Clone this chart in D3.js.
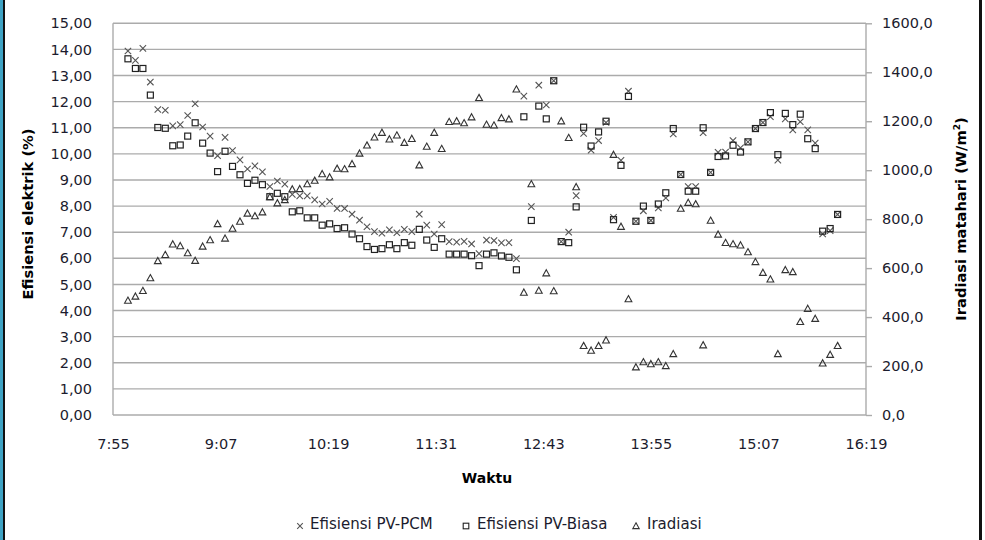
<!DOCTYPE html>
<html><head><meta charset="utf-8">
<script src="https://cdn.jsdelivr.net/npm/d3@7"></script>
<style>html,body{margin:0;padding:0;background:#fff;}svg{display:block;}</style>
</head><body>
<script>
const times = ["8:05","8:10","8:15","8:20","8:25","8:30","8:35","8:40","8:45","8:50","8:55","9:00",
"9:05","9:10","9:15","9:20","9:25","9:30","9:35","9:40","9:45","9:50","9:55","10:00",
"10:05","10:10","10:15","10:20","10:25","10:30","10:35","10:40","10:45","10:50","10:55","11:00",
"11:05","11:10","11:15","11:20","11:25","11:30","11:35","11:40","11:45","11:50","11:55","12:00",
"12:05","12:10","12:15","12:20","12:25","12:30","12:35","12:40","12:45","12:50","12:55","13:00",
"13:05","13:10","13:15","13:20","13:25","13:30","13:35","13:40","13:45","13:50","13:55","14:00",
"14:05","14:10","14:15","14:20","14:25","14:30","14:35","14:40","14:45","14:50","14:55","15:00",
"15:05","15:10","15:15","15:20","15:25","15:30","15:35","15:40","15:45","15:50","15:55","16:00"];
const effPCM = [13.94,13.58,14.04,12.75,11.70,11.67,11.07,11.12,11.47,11.92,11.03,10.68,
9.93,10.63,10.13,9.77,9.42,9.54,9.31,8.75,8.96,8.84,8.45,8.39,
8.39,8.24,8.08,8.18,7.91,7.91,7.69,7.46,7.21,7.02,6.96,7.09,
6.98,7.11,7.02,7.69,7.27,6.93,7.29,6.64,6.62,6.65,6.55,6.18,
6.70,6.68,6.59,6.60,5.99,12.21,7.98,12.63,11.87,12.80,6.64,7.00,
8.40,10.78,10.14,10.51,11.20,7.57,9.75,12.40,7.42,7.82,7.45,7.93,
8.31,10.76,9.21,8.75,8.75,10.81,9.29,10.06,10.07,10.51,10.23,10.46,
10.97,11.20,11.42,9.76,11.34,10.92,11.23,10.92,10.41,6.93,7.06,7.68];
const effBiasa = [13.64,13.27,13.27,12.25,11.01,10.98,10.31,10.34,10.68,11.19,10.41,10.03,
9.32,10.10,9.52,9.20,8.87,8.99,8.82,8.36,8.49,8.36,7.78,7.82,
7.55,7.55,7.27,7.32,7.14,7.17,6.93,6.75,6.45,6.34,6.37,6.52,
6.37,6.60,6.50,7.11,6.70,6.42,6.75,6.16,6.16,6.16,6.10,5.72,
6.16,6.21,6.09,6.04,5.56,11.42,7.45,11.83,11.34,12.80,6.64,6.60,
7.97,11.02,10.30,10.84,11.25,7.48,9.56,12.20,7.42,8.00,7.45,8.08,
8.51,10.97,9.21,8.57,8.57,11.00,9.29,9.90,9.92,10.33,10.07,10.46,
10.97,11.20,11.58,9.97,11.55,11.12,11.52,10.58,10.20,7.04,7.14,7.68];
const irradiasi = [467,484,507,559,629,654,697,690,661,630,688,714,
780,721,761,790,823,812,828,890,865,878,922,923,
943,957,984,971,1006,1004,1025,1068,1101,1134,1153,1126,
1142,1112,1128,1020,1096,1153,1087,1197,1200,1192,1216,1295,
1186,1183,1213,1208,1330,500,943,508,579,506,1200,1132,
931,282,263,282,305,1063,769,473,195,216,208,216,
200,249,843,867,861,285,794,737,703,698,693,665,
625,581,554,249,592,584,380,434,393,211,246,282];
const xTickLabels = ["7:55","9:07","10:19","11:31","12:43","13:55","15:07","16:19"];
const leftTicks = [0,1,2,3,4,5,6,7,8,9,10,11,12,13,14,15];
const rightTicks = [0,200,400,600,800,1000,1200,1400,1600];
const seriesNames = ["Efisiensi PV-PCM","Efisiensi PV-Biasa","Iradiasi"];

const W = 985, H = 540;
const toMin = s => { const [h,m] = s.split(":").map(Number); return h*60+m; };
const svg = d3.select("body").append("svg").attr("width",W).attr("height",H);
const FONT = "'DejaVu Sans', Verdana, sans-serif";
const TXT = "#1c1c2e";

const L = 113, R = 866, T = 23.3, B = 415;
const x = d3.scaleLinear().domain([toMin(xTickLabels[0]), toMin(xTickLabels[xTickLabels.length-1])]).range([L,R]);
const yL = d3.scaleLinear().domain([0,15]).range([B,T]);
const yR = d3.scaleLinear().domain([0,1600]).range([B,T]);

// frame edges
svg.append("rect").attr("x",0).attr("y",0).attr("width",3).attr("height",H).attr("fill","#3fa3c4");
svg.append("rect").attr("x",3).attr("y",0).attr("width",2).attr("height",H).attr("fill","#111");
svg.append("rect").attr("x",979).attr("y",0).attr("width",3).attr("height",H).attr("fill","#111");

// gridlines
svg.append("g").selectAll("line").data(leftTicks).join("line")
  .attr("x1",L).attr("x2",R).attr("y1",d=>yL(d)).attr("y2",d=>yL(d))
  .attr("stroke","#ababab").attr("stroke-width",1.4);
// axis lines
svg.append("line").attr("x1",L).attr("x2",L).attr("y1",T).attr("y2",B).attr("stroke","#ababab").attr("stroke-width",1.4);
svg.append("line").attr("x1",R).attr("x2",R).attr("y1",T).attr("y2",B).attr("stroke","#ababab").attr("stroke-width",1.4);

// left axis labels
const fmtL = d => d3.format(".2f")(d).replace(".",",");
const fmtR = d => d3.format(".1f")(d).replace(".",",");
const gl = svg.append("g").attr("transform",`translate(${L},0)`)
  .call(d3.axisLeft(yL).tickValues(leftTicks).tickFormat(fmtL).tickSize(0).tickPadding(21));
gl.select(".domain").remove();
gl.selectAll("text").attr("font-family",FONT).attr("font-size",14.5).attr("fill",TXT);

const gr = svg.append("g").attr("transform",`translate(${R},0)`)
  .call(d3.axisRight(yR).tickValues(rightTicks).tickFormat(fmtR).tickSize(6).tickPadding(10));
gr.select(".domain").remove();
gr.selectAll("line").attr("stroke","#ababab").attr("stroke-width",1.4);
gr.selectAll("text").attr("font-family",FONT).attr("font-size",14.5).attr("fill",TXT);

const gx = svg.append("g").attr("transform",`translate(0,${B})`)
  .call(d3.axisBottom(x).tickValues(xTickLabels.map(toMin)).tickFormat((d,i)=>xTickLabels[i]).tickSize(0).tickPadding(24));
gx.select(".domain").remove();
gx.selectAll("text").attr("font-family",FONT).attr("font-size",14.5).attr("fill",TXT);

// titles
svg.append("text").attr("x",487).attr("y",483).attr("text-anchor","middle")
  .attr("font-family",FONT).attr("font-weight","bold").attr("font-size",14).attr("fill","#000").text("Waktu");
svg.append("text").attr("transform","translate(33,214) rotate(-90)").attr("text-anchor","middle")
  .attr("font-family",FONT).attr("font-weight","bold").attr("font-size",14.7).attr("fill","#000").text("Efisiensi elektrik (%)");
const rt = svg.append("text").attr("transform","translate(966,219) rotate(-90)").attr("text-anchor","middle")
  .attr("font-family",FONT).attr("font-weight","bold").attr("font-size",14.7).attr("fill","#000");
rt.append("tspan").text("Iradiasi matahari (W/m");
rt.append("tspan").attr("font-size",9).attr("dy",-6).text("2");
rt.append("tspan").attr("dy",6).text(")");

// markers
const xPath = "M-3.2,-3.2L3.2,3.2M-3.2,3.2L3.2,-3.2";
const triPath = "M0,-3.6L3.4,2.6L-3.4,2.6Z";
const data = times.map((t,i)=>({t:toMin(t), a:effPCM[i], b:effBiasa[i], c:irradiasi[i]}));
const plot = svg.append("g");
plot.selectAll(".pcm").data(data.filter(d=>d.a!=null)).join("path").attr("class","pcm")
  .attr("d",xPath).attr("transform",d=>`translate(${x(d.t)},${yL(d.a)})`)
  .attr("stroke","#555").attr("stroke-width",1.1).attr("fill","none");
plot.selectAll(".bia").data(data.filter(d=>d.b!=null)).join("rect").attr("class","bia")
  .attr("x",d=>x(d.t)-3).attr("y",d=>yL(d.b)-3).attr("width",6).attr("height",6)
  .attr("stroke","#222").attr("stroke-width",1.2).attr("fill","none");
plot.selectAll(".irr").data(data.filter(d=>d.c!=null)).join("path").attr("class","irr")
  .attr("d",triPath).attr("transform",d=>`translate(${x(d.t)},${yR(d.c)})`)
  .attr("stroke","#333").attr("stroke-width",1.1).attr("fill","none");

// legend
const leg = svg.append("g");
const legItems = [
  {name:seriesNames[0], mx:300, tx:310, kind:"x"},
  {name:seriesNames[1], mx:466, tx:477, kind:"s"},
  {name:seriesNames[2], mx:636, tx:647, kind:"t"}];
legItems.forEach(it=>{
  if(it.kind==="x") leg.append("path").attr("d","M-2.8,-2.8L2.8,2.8M-2.8,2.8L2.8,-2.8").attr("transform",`translate(${it.mx},526)`).attr("stroke","#555").attr("stroke-width",1.1);
  if(it.kind==="s") leg.append("rect").attr("x",it.mx-2.8).attr("y",523.2).attr("width",5.6).attr("height",5.6).attr("stroke","#222").attr("stroke-width",1.1).attr("fill","none");
  if(it.kind==="t") leg.append("path").attr("d","M0,-3.2L3.2,2.6L-3.2,2.6Z").attr("transform",`translate(${it.mx},526)`).attr("stroke","#333").attr("stroke-width",1.1).attr("fill","none");
  leg.append("text").attr("x",it.tx).attr("y",529).attr("font-family",FONT).attr("font-size",15).attr("fill",TXT).text(it.name);
});
</script>
</body></html>
